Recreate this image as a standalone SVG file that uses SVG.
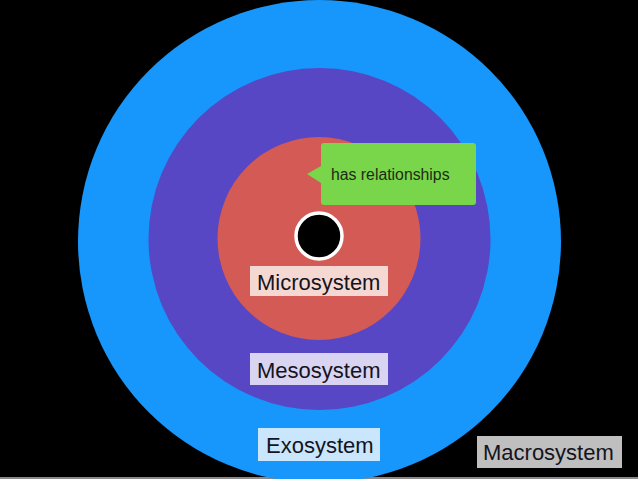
<svg xmlns="http://www.w3.org/2000/svg" width="638" height="479" viewBox="0 0 638 479">
<style>
.lbl{font-family:"Liberation Sans",Arial,sans-serif;font-size:22px;fill:#141420}
.call{font-family:"Liberation Sans",Arial,sans-serif;font-size:15.8px;fill:#1e2a14}
</style>
<rect width="638" height="479" fill="#000"/>
<rect x="0" y="477" width="638" height="2" fill="#8a8a8a"/>
<g id="macrosystem-ring"><circle cx="319.5" cy="241.5" r="241.5" fill="#1796fb"/></g>
<g id="mesosystem-ring"><circle cx="319.5" cy="239" r="171" fill="#5747c4"/></g>
<g id="microsystem-ring"><circle cx="319" cy="238.5" r="101.5" fill="#d45a55"/></g>
<g id="individual"><circle cx="319" cy="236" r="23" fill="#000" stroke="#fff" stroke-width="3.5"/></g>
<g id="callout">
<path d="M324,143 H473 Q476,143 476,146 V202 Q476,205 473,205 H324 Q321,205 321,202 V183 L307,174 L321,166 V146 Q321,143 324,143 Z" fill="#79d64a"/>
<text class="call" x="331" y="180">has relationships</text>
</g>
<g id="label-microsystem">
<rect x="250" y="266" width="138" height="30" fill="#f6d8d3"/>
<text class="lbl" x="257" y="290">Microsystem</text>
</g>
<g id="label-mesosystem">
<rect x="250" y="353" width="138" height="32" fill="#d8d4f1"/>
<text class="lbl" x="257" y="378">Mesosystem</text>
</g>
<g id="label-exosystem">
<rect x="258" y="428" width="122" height="33" fill="#c9e6fd"/>
<text class="lbl" x="266" y="453">Exosystem</text>
</g>
<g id="label-macrosystem">
<rect x="477" y="436" width="145" height="32" fill="#bfbfbf"/>
<text class="lbl" x="483" y="460">Macrosystem</text>
</g>
<g id="connectors"/>
</svg>
